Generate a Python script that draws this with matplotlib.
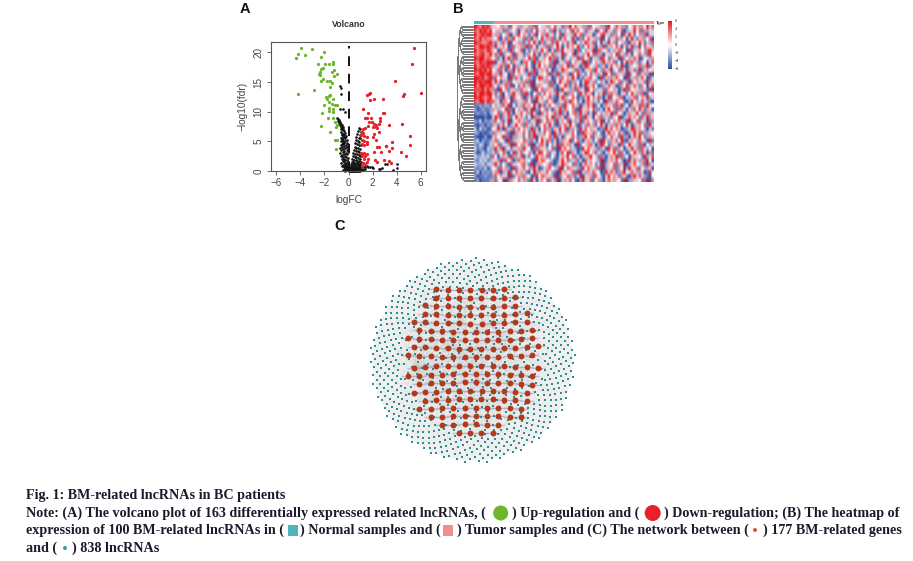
import numpy as np
import matplotlib
matplotlib.use("Agg")
import matplotlib.pyplot as plt
from matplotlib.colors import LinearSegmentedColormap
from matplotlib.collections import LineCollection
from matplotlib.patches import Circle, Rectangle

W, H = 913, 561
# ---------- A: volcano ----------
green_x = [-3.93,-4.21,-4.38,-3.60,-3.07,-2.05,-2.30,-2.52,-2.16,-2.27,-1.94,-1.61,-1.30,-1.30,-2.38,-2.44,-2.38,-1.39,-1.19,-1.00,-1.19,-2.33,-2.10,-1.77,-1.55,-1.39,-1.50,-2.91,-4.18,-1.91,-1.61,-1.50,-1.30,-1.75,-1.63,-2.00,-1.39,-1.16,-1.00,-1.61,-1.66,-1.33,-2.22,-1.27,-1.72,-1.30,-1.14,-2.27,-1.00,-1.02,-1.50,-1.11,-1.00,-1.08]
green_y = [20.8,19.8,19.0,19.6,20.6,20.1,19.2,18.1,17.4,17.2,18.0,18.0,18.4,18.0,16.7,16.3,16.2,16.7,17.0,16.3,16.0,15.2,15.5,15.2,15.2,14.9,14.1,13.7,13.0,12.4,12.6,12.8,12.2,12.1,11.7,11.1,11.3,11.1,11.1,10.6,10.2,10.5,9.8,10.0,9.0,9.0,8.2,7.6,7.8,7.4,6.6,5.3,5.2,3.7]
red_x = [5.48,5.29,3.88,6.04,4.60,4.54,1.55,1.77,1.70,2.10,1.75,2.85,1.20,1.65,2.85,2.95,1.35,1.50,1.90,2.65,2.65,1.70,1.95,2.10,2.30,2.50,1.20,1.10,1.40,1.60,2.05,2.30,2.40,3.40,4.45,1.00,1.20,1.30,1.50,2.05,2.50,2.15,5.10,2.30,1.10,1.30,1.50,1.10,3.65,3.15,5.10,1.25,1.55,2.40,2.55,3.15,3.60,3.40,2.10,2.70,4.35,1.00,1.15,1.30,1.10,1.35,1.50,4.75,1.30,1.60,2.20,2.40,2.95,3.35,3.50,1.20,1.35,1.50,1.10]
red_y = [20.8,18.0,15.2,13.1,13.0,12.6,12.8,13.2,13.0,12.2,11.9,12.2,10.5,9.8,9.7,9.8,9.0,9.0,8.9,8.9,8.5,8.3,8.2,8.0,7.8,8.0,7.0,6.6,7.3,7.6,7.4,7.5,7.2,7.7,8.0,6.0,6.4,5.9,5.7,5.8,6.5,6.3,5.9,5.3,5.3,5.0,4.9,4.6,4.9,4.2,4.3,4.3,4.5,4.1,4.0,4.2,3.9,3.4,3.2,3.2,3.2,3.1,2.9,3.1,2.6,2.5,2.8,2.5,2.1,2.0,1.8,1.6,1.9,1.7,1.4,1.4,1.2,1.5,0.9]
black_x = [-0.70,-0.65,-0.65,-0.70,-0.50,-0.30,
-0.92,-0.85,-0.78,-0.88,-0.70,-0.80,-0.62,-0.72,-0.55,-0.66,-0.48,-0.58,-0.42,-0.64,-0.50,-0.38,-0.60,-0.28,-0.52,-0.44,-0.34,-0.58,-0.22,-0.48,-0.38,-0.62,-0.30,-0.54,-0.16,-0.42,-0.66,-0.26,-0.50,-0.34,-0.12,-0.58,-0.44,-0.20,-0.64,-0.36,-0.10,-0.52,-0.28,-0.70,-0.42,-0.16,-0.60,-0.34,-0.08,-0.50,-0.24,-0.74,-0.40,-0.12,-0.56,-0.30,-0.66,-0.20,-0.46,-0.06,-0.36,-0.58,-0.14,-0.26,-0.48,-0.08,-0.38,-0.62,-0.18,-0.30,-0.04,-0.44,-0.22,-0.52,-0.10,-0.34,-0.16,-0.26,-0.40,-0.06,-0.20,-0.30,-0.12,-0.02,-0.24,-0.34,-0.08,-0.16,-0.44,-0.04,-0.28,
0.88,0.96,0.80,1.00,0.72,0.92,0.66,0.84,0.98,0.62,0.76,0.90,0.56,0.70,0.86,1.00,0.50,0.66,0.82,0.94,0.46,0.60,0.76,0.90,0.40,0.54,0.70,0.84,0.98,0.36,0.50,0.64,0.78,0.92,0.30,0.44,0.58,0.72,0.86,1.00,0.26,0.40,0.54,0.68,0.82,0.96,0.22,0.34,0.48,0.62,0.76,0.90,0.18,0.30,0.42,0.56,0.70,0.84,0.98,0.14,0.26,0.38,0.50,0.64,0.78,0.92,0.12,0.22,0.34,0.46,0.58,0.72,0.86,1.00,0.08,0.18,0.28,0.40,0.52,0.66,0.80,0.94,0.06,0.14,0.24,0.36,0.48,0.60,0.74,0.88,0.04,0.12,0.20,0.32,0.44,0.56,0.68,0.82,0.96,0.03,0.10,0.18,0.28,0.40,0.52,
1.05,1.15,1.25,1.40,1.55,1.65,1.80,1.95,2.05,2.50,2.75,3.00,3.20,3.70,4.00,4.00,2.60,1.35,1.20,1.10]
black_y = [14.3,14.0,13.0,10.4,10.5,9.9,
9.0,8.8,8.6,8.4,8.3,8.1,8.0,7.8,7.7,7.5,7.4,7.3,7.1,7.0,6.9,6.7,6.6,6.4,6.3,6.2,6.1,6.0,5.9,5.8,5.7,5.6,5.5,5.4,5.3,5.2,5.1,5.0,4.9,4.8,4.7,4.6,4.5,4.4,4.3,4.2,4.1,4.0,3.9,3.8,3.7,3.6,3.5,3.4,3.3,3.2,3.1,3.0,2.9,2.8,2.7,2.6,2.5,2.4,2.3,2.2,2.1,2.0,1.9,1.8,1.7,1.6,1.5,1.4,1.3,1.2,1.1,1.0,0.95,0.9,0.85,0.8,0.7,0.65,0.6,0.55,0.5,0.45,0.4,0.35,0.3,0.25,0.2,0.15,0.12,0.1,0.05,
7.2,7.0,6.7,6.5,6.2,6.0,5.8,5.6,5.5,5.2,5.0,4.9,4.7,4.5,4.4,4.3,4.1,3.9,3.8,3.7,3.5,3.4,3.3,3.2,3.0,2.9,2.8,2.7,2.6,2.5,2.4,2.3,2.2,2.1,2.0,1.9,1.8,1.75,1.7,1.6,1.5,1.45,1.4,1.35,1.3,1.25,1.2,1.15,1.1,1.05,1.0,0.95,0.9,0.85,0.8,0.75,0.7,0.68,0.65,0.6,0.55,0.52,0.5,0.48,0.45,0.42,0.4,0.38,0.35,0.32,0.3,0.28,0.26,0.25,0.22,0.2,0.18,0.17,0.16,0.15,0.14,0.12,0.11,0.1,0.09,0.08,0.07,0.06,0.06,0.05,0.04,0.04,0.03,0.03,0.02,0.02,0.02,0.01,0.01,0.01,0.01,0.01,0.01,0.0,0.0,
0.8,0.9,0.7,0.75,0.8,0.7,0.75,0.65,0.5,0.4,0.5,1.1,1.1,0.2,1.1,0.5,0.3,0.3,0.2,0.4]

# ---------- B: heatmap (1 = deep blue, 5 = white, 9 = deep red) ----------
normal_rows = ["9879897","8798979","9789899","8797877","9887789","8799898","9788798","8789779","9899787","8798899",
"9789898","9898979","8799899","9989789","9898999","9799889","8889797","9799899","9898789","8799798",
"2232332","3123223","2322313","1111211","3241323","2123132","4142312","3312123","2111311","3413223",
"3243124","4232143","3124233","4334342","3243423","4334244","3232413","2413232","3122322","2312223"]
tumor_rows = [
"465736285473647382546375846273958463728546372954863725486375948",
"547628345716483259647538162475394856274618539462758134695827364",
"637254816395742681573946258174639582746135894627351849625738164",
"458162739546827163594738261685493172586473915264837516942673581",
"726384915673248596172648395762481536974825163947256381475962638",
"394675128467392851647283596148675932584716392475861624937158463",
"651847293568142637495716283956471825364918756243687519264753896",
"483926571846237594162758364926581743695827316475926384156847295",
"572416938264759381647593826175364928571463985274619357486125637",
"916483527641785293846572914638257469182574396748251693847265148",
"364872951736485216957428163759284613985472361685749213654837926",
"548261739485716392674851236974562831467295384716528493627184356",
"673945182574639281465718392647185936258473619582746319458267391",
"285764193862547316984751263857496132678541926374865192473685124",
"496173825647382915463728159648273516984725361497582631857462936",
"752648391526847193765482316597248613974851236846127593684275148",
"381957264738645219583764812956372846195736482657413928564736291",
"624815379462893157248576394618375294867153492786314625947381256",
"573296418657124839675483216974586132495768314925678143682574936",
"846137592364785219463857126483975261786342519374865213957486321",
"536784915263847596172485637294586713684925137648279351746283965",
"763459281576284913857261749386572194675832416957283416385962741",
"458276931648573962184756839261578394726185367492856137649528374",
"697134825967425183746859273618457382946157834726591348675284936",
"385726914586372649175836294758163492675384916257486391758264183",
"742685136957284361758496213684957126384725961473862594136758294",
"569318472685743926158372649581736294857461329685741236984753162",
"836457219364852796348571962637485129764835216947586213496827365",
"475692813746258391674583926175486237958264713586429371684952736",
"683541927465873261594872613746925831674258196374859216753864192",
"758264391857362914786153492867341925678413985274618359647281536",
"394817526473965182746358219685743129586472361948275136947286351",
"627583149268457316985724613859274136985726314759628413596384172",
"851476293748162539674825316749582613479562831476928351746529368",
"463928571386745219687543126958347261847563912674853129486372951",
"796253184657842913765482136974528316847526193658274913685472936",
"542867319264857396124785639158764329586472913648275139648257361",
"678134925867421593764853219675482916374865129486237954863741295",
"385746192473865129587463912658372491647285316957483621794863215",
"724591836584732961475826391674852139648257316847652913746528193",
]
colorbar_ticks = [6, 4, 2, 0, -2, -4, -6]

# ---------- C: network layout inputs ----------
red_row_counts = [7, 8, 9, 10, 11, 11, 12, 12, 12, 12, 12, 11, 11, 10, 10, 9, 6, 4]
teal_outer_count = 560
teal_inner_count = 278

# ---------- captions ----------
caption_frags = [
 (26, 495, "Fig. 1: BM-related lncRNAs in BC patients"),
 (26, 513, "Note: (A) The volcano plot of 163 differentially expressed related lncRNAs, ("),
 (512, 513, ") Up-regulation and ("),
 (664, 513, ") Down-regulation; (B) The heatmap of"),
 (26, 530, "expression of 100 BM-related lncRNAs in ("),
 (300, 530, ") Normal samples and ("),
 (457, 530, ") Tumor samples and (C) The network between ("),
 (763, 530, ") 177 BM-related genes"),
 (26, 548, "and ("),
 (72, 548, ") 838 lncRNAs"),
]

plt.rcParams["font.family"] = ["Liberation Sans", "DejaVu Sans"]
fig = plt.figure(figsize=(W/100, H/100), dpi=100)

def px_axes(l, t, r, b, **kw):
    return fig.add_axes([l/W, 1-b/H, (r-l)/W, (b-t)/H], **kw)

ov = px_axes(0, 0, W, H)
ov.set_xlim(0, W); ov.set_ylim(H, 0); ov.axis("off")

# A
ax = px_axes(270.7, 41.7, 426, 171)
ax.set_xlim(-6.47, 6.44); ax.set_ylim(0, 21.8)
ax.scatter(black_x, black_y, s=3.6, c="#111111", lw=0, clip_on=False)
ax.scatter(green_x, green_y, s=5.5, c="#6cb52d", lw=0)
ax.scatter(red_x, red_y, s=5.5, c="#e8202a", lw=0)
ax.plot([0, 0], [0, 21], color="#111111", lw=1.4, dashes=(5, 4))
for s in ax.spines.values():
    s.set_color("#555555"); s.set_linewidth(0.8)
ax.set_xticks([-6, -4, -2, 0, 2, 4, 6])
ax.set_xticklabels(["\u22126", "\u22124", "\u22122", "0", "2", "4", "6"])
ax.set_yticks([0, 5, 10, 15, 20])
ax.tick_params(length=3, width=0.6, color="#555555", labelsize=7.1, labelcolor="#444444", pad=2)
plt.setp(ax.get_yticklabels(), rotation=90, va="center")
ov.text(349, 199.5, "logFC", ha="center", va="center", fontsize=7.3, color="#444444")
ov.text(243, 106, "\u2212log10(fdr)", ha="center", va="center", rotation=90, fontsize=7.3, color="#444444")
ov.text(349, 24.5, "Volcano", ha="center", va="center", fontsize=6.3, fontweight="bold", color="#333333")
for x, y, t in [(245, 9, "A"), (458, 9, "B"), (340, 226, "C")]:
    ov.text(x, y, t, ha="center", va="center", fontsize=10.5, fontweight="bold", color="#111111")

# B
def row_vals(s):
    return [int(c) for c in s]
mat = np.array([row_vals(n.ljust(7, "5")[:7] + t.ljust(63, "5")[:63])
                for n, t in zip(normal_rows, tumor_rows)], dtype=float) - 5
cmap = LinearSegmentedColormap.from_list("hm", ["#2f4ea3", "#ffffff", "#e4191f"])
hm = px_axes(474, 25, 654, 182)
hm.imshow(mat, aspect="auto", cmap=cmap, vmin=-4, vmax=4, interpolation="bilinear",
          extent=[0, 70, 40, 0])
hm.axis("off")
ov.add_patch(Rectangle((474, 21), 19.3, 3, fc="#4db6bd", ec="none"))
ov.add_patch(Rectangle((493.3, 21), 160.7, 3, fc="#f0908c", ec="none"))
ov.text(655.5, 22.5, "Type", ha="left", va="center", fontsize=3, fontweight="bold", color="#333333")
cb = px_axes(668, 21, 672, 69)
cb.imshow(np.linspace(1, -1, 64)[:, None], aspect="auto", cmap=cmap, vmin=-1, vmax=1)
cb.axis("off")
for i, v in enumerate(colorbar_ticks):
    ov.text(674.5, 21 + i*8, str(v).replace("-", "\u2212"), ha="left", va="center", fontsize=2.8, color="#333333")

# dendrogram: binary tree over the 100 rows
segs = []
def tree(lo, hi, x):
    if hi - lo <= 1:
        return lo + 0.5
    mid = lo + max(1, int((hi - lo) * (0.56 if (lo % 3) else 0.44)))
    nx = x + (474 - x) * 0.08
    a = tree(lo, mid, nx); b = tree(mid, hi, nx)
    ya, yb = 25 + a*1.57, 25 + b*1.57
    segs.append([(x, ya), (x, yb)])
    segs.append([(x, ya), (nx if mid-lo > 1 else 474, ya)])
    segs.append([(x, yb), (nx if hi-mid > 1 else 474, yb)])
    return (a + b) / 2
tree(0, 100, 456.5)
ov.add_collection(LineCollection(segs, colors="#606060", linewidths=0.6))

# C network
cx, cy = 472.5, 360.5
ov.add_patch(Circle((cx, cy), 100, fc="#f1f1f1", ec="none", zorder=0))
red_nodes = []
n_rows = len(red_row_counts)
for r, n in enumerate(red_row_counts):
    yy = 290 + r * 8.4
    for i in range(n):
        xx = 473 + (i - (n-1)/2) * 11.3 + (2.8 if r % 2 else -2.8)
        red_nodes.append((xx, yy + 0.0006*(xx-472)**2*np.sign(yy-362)))
red_nodes = np.array(red_nodes)
golden = np.pi*(3-np.sqrt(5))
teal_nodes = []
for i in range(teal_outer_count):
    rad = np.sqrt(72**2 + (102.5**2-72**2)*(i+0.5)/teal_outer_count)
    teal_nodes.append((cx + rad*np.cos(i*golden), cy + rad*np.sin(i*golden)))
for i in range(teal_inner_count):
    rad = 72*np.sqrt((i+0.5)/teal_inner_count)
    teal_nodes.append((cx + rad*np.cos(i*golden), cy + rad*np.sin(i*golden)))
teal_nodes = np.array(teal_nodes)
hub = np.argmin(np.hypot(red_nodes[:, 0]-405, red_nodes[:, 1]-365))
edges = []
for i, p in enumerate(teal_nodes):
    edges.append([tuple(p), tuple(red_nodes[(i*7) % len(red_nodes)])])
    if i % 6 == 0:
        edges.append([tuple(p), tuple(red_nodes[hub])])
ov.add_collection(LineCollection(edges, colors="#808080", linewidths=0.3, alpha=0.06, zorder=1))
smear = [[(x-7, y), (x+7, y)] for x, y in red_nodes]
ov.add_collection(LineCollection(smear, colors="#9ea3c8", linewidths=1.0, alpha=0.6, zorder=2))
ov.scatter(teal_nodes[:, 0], teal_nodes[:, 1], s=3.8, c="#2a8f92", marker="s", lw=0, zorder=3)
ov.scatter(red_nodes[:, 0], red_nodes[:, 1], s=18, c="#b23a1c", lw=0, zorder=4)

# caption
for x, y, t in caption_frags:
    ov.text(x, y, t, ha="left", va="center", fontsize=10.2, fontweight="bold",
            family="Liberation Serif", color="#1a1a2a")
ov.add_patch(Circle((500.7, 513), 7.5, fc="#6cb52d", ec="none"))
ov.add_patch(Circle((652.7, 513), 8, fc="#e8202a", ec="none"))
ov.add_patch(Rectangle((287.5, 525), 10, 11, fc="#4db6bd", ec="none"))
ov.add_patch(Rectangle((443, 525), 10, 11, fc="#f0908c", ec="none"))
ov.add_patch(Circle((755, 530), 2, fc="#e0552f", ec="none"))
ov.add_patch(Circle((65, 548), 2, fc="#2a9fa5", ec="none"))

fig.savefig("out.png", dpi=100)
